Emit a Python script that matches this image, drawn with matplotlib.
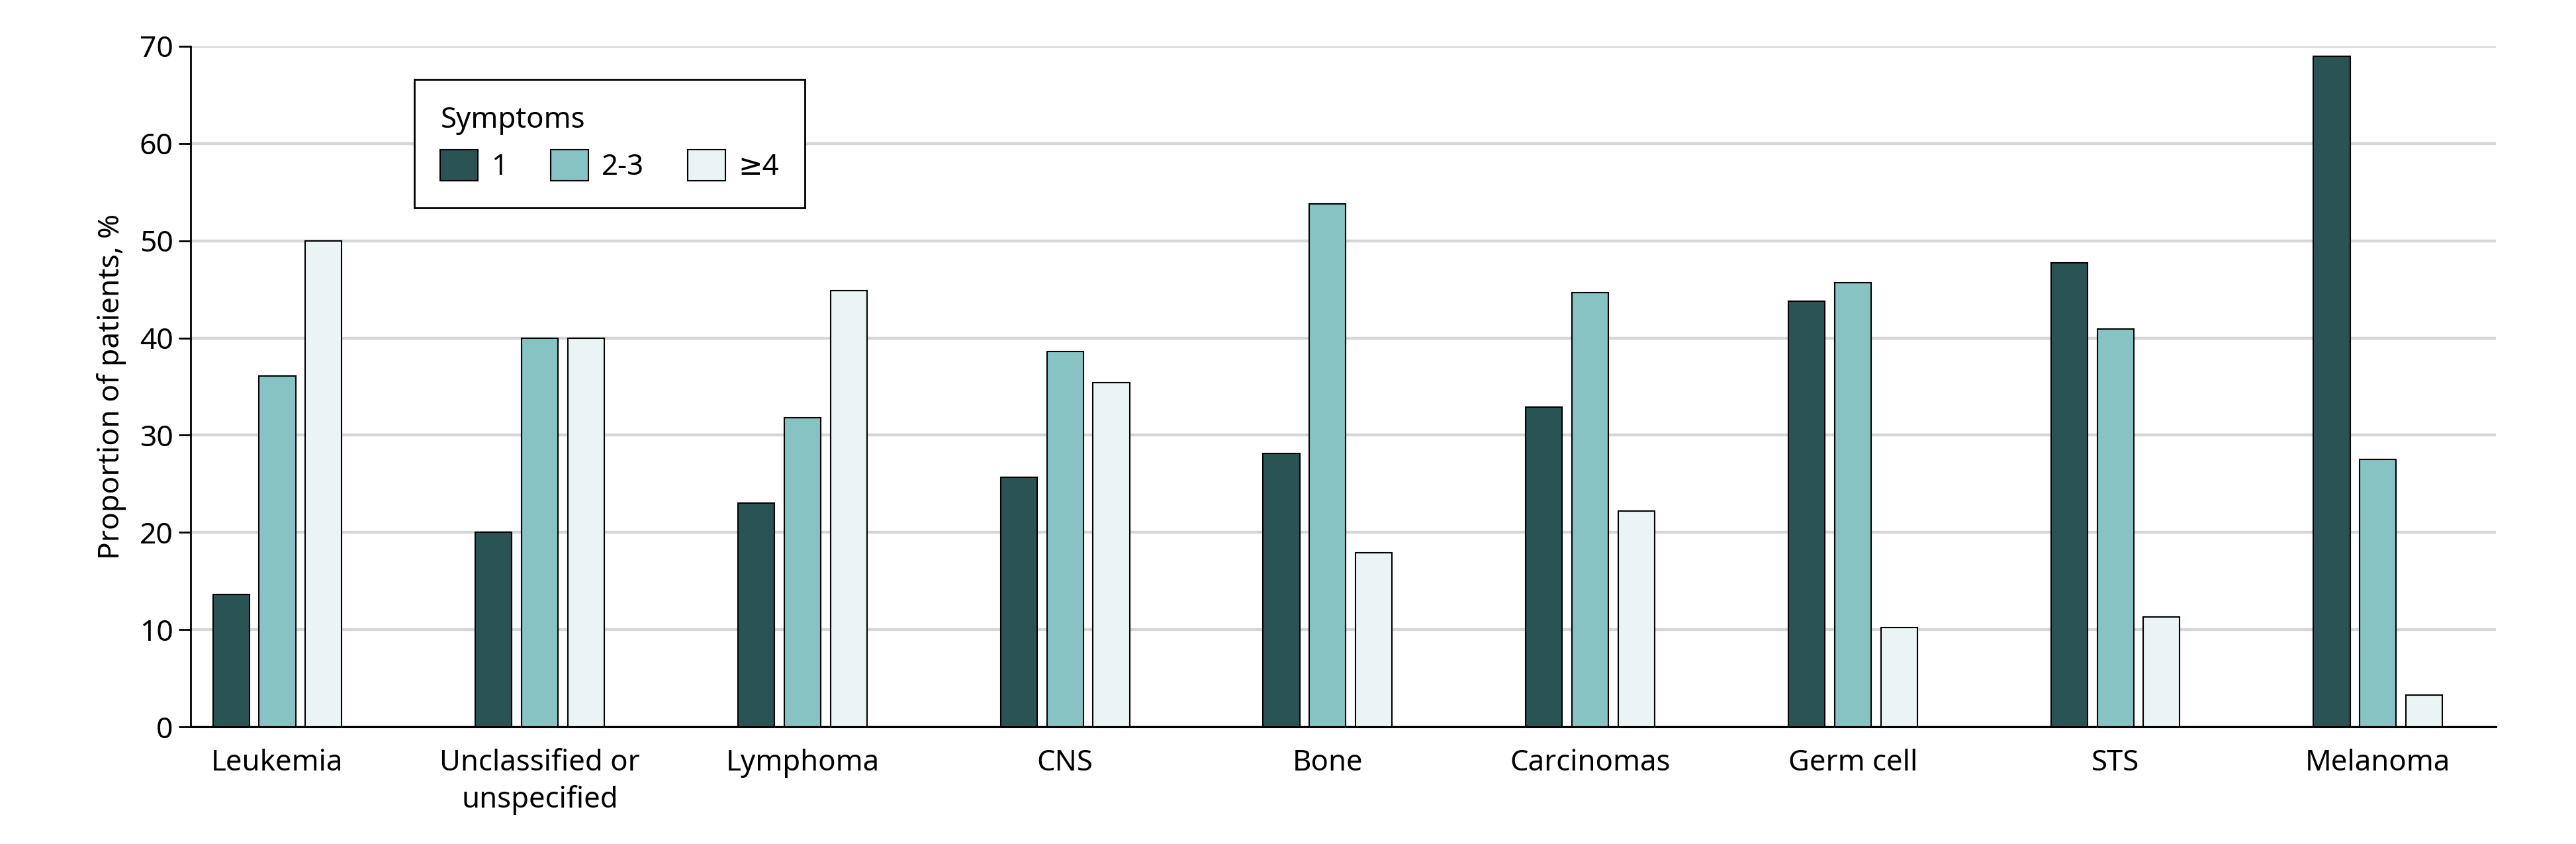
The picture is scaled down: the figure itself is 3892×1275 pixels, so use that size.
import numpy as np
import matplotlib.pyplot as plt

# data
categories = ['Leukemia', 'Unclassified or\nunspecified', 'Lymphoma', 'CNS', 'Bone',
              'Carcinomas', 'Germ cell', 'STS', 'Melanoma']
sym_1 = [13.6, 20.0, 23.0, 25.7, 28.1, 32.9, 43.8, 47.7, 69.0]
sym_2_3 = [36.1, 40.0, 31.8, 38.6, 53.8, 44.7, 45.7, 40.9, 27.5]
sym_4plus = [50.0, 40.0, 44.9, 35.4, 17.9, 22.2, 10.2, 11.3, 3.3]
series_labels = ['1', '2-3', '≥4']
colors = ['#2a5454', '#86c3c2', '#eaf4f4']
yticks = [0, 10, 20, 30, 40, 50, 60, 70]

plt.rcParams['font.family'] = ['Noto Sans', 'DejaVu Sans']

fig = plt.figure(figsize=(38.92, 12.75), dpi=100)
ax = fig.add_axes([0.074, 0.1388, 0.895, 0.8063])

x = np.arange(len(categories))
w = 0.139
off = 0.176
for i, vals in enumerate([sym_1, sym_2_3, sym_4plus]):
    ax.bar(x + (i - 1) * off, vals, width=w, color=colors[i], edgecolor='black',
           linewidth=1.5, label=series_labels[i], zorder=3)

ax.set_xlim(-0.33, 8.45)
ax.set_ylim(0, 70)
ax.set_yticks(yticks)
ax.set_xticks(x)
ax.set_xticklabels(categories, fontsize=31.5, linespacing=1.3)
ax.tick_params(axis='x', length=0, pad=24)
ax.tick_params(axis='y', labelsize=32, length=13, width=2, pad=6)
ax.yaxis.grid(True, color='#d6d6d6', linewidth=3.2, zorder=0)
ax.set_axisbelow(True)
for s in ['top', 'right']:
    ax.spines[s].set_visible(False)
ax.spines['left'].set_linewidth(2)
ax.spines['bottom'].set_linewidth(2.2)
ax.spines['left'].set_zorder(4)
ax.spines['bottom'].set_zorder(4)
ax.set_ylabel('Proportion of patients, %', fontsize=32, labelpad=14)

leg = ax.legend(title='Symptoms', ncol=3, loc='upper left', bbox_to_anchor=(0.097, 0.951),
                borderaxespad=0, fontsize=31.5, title_fontsize=31.5, frameon=True,
                fancybox=False, edgecolor='black', handlelength=1.3, handleheight=1.3,
                handletextpad=0.45, columnspacing=1.5, borderpad=0.9, alignment='left')
leg.get_frame().set_linewidth(2)
leg.get_frame().set_alpha(1)

fig.savefig('out.png', dpi=100)
